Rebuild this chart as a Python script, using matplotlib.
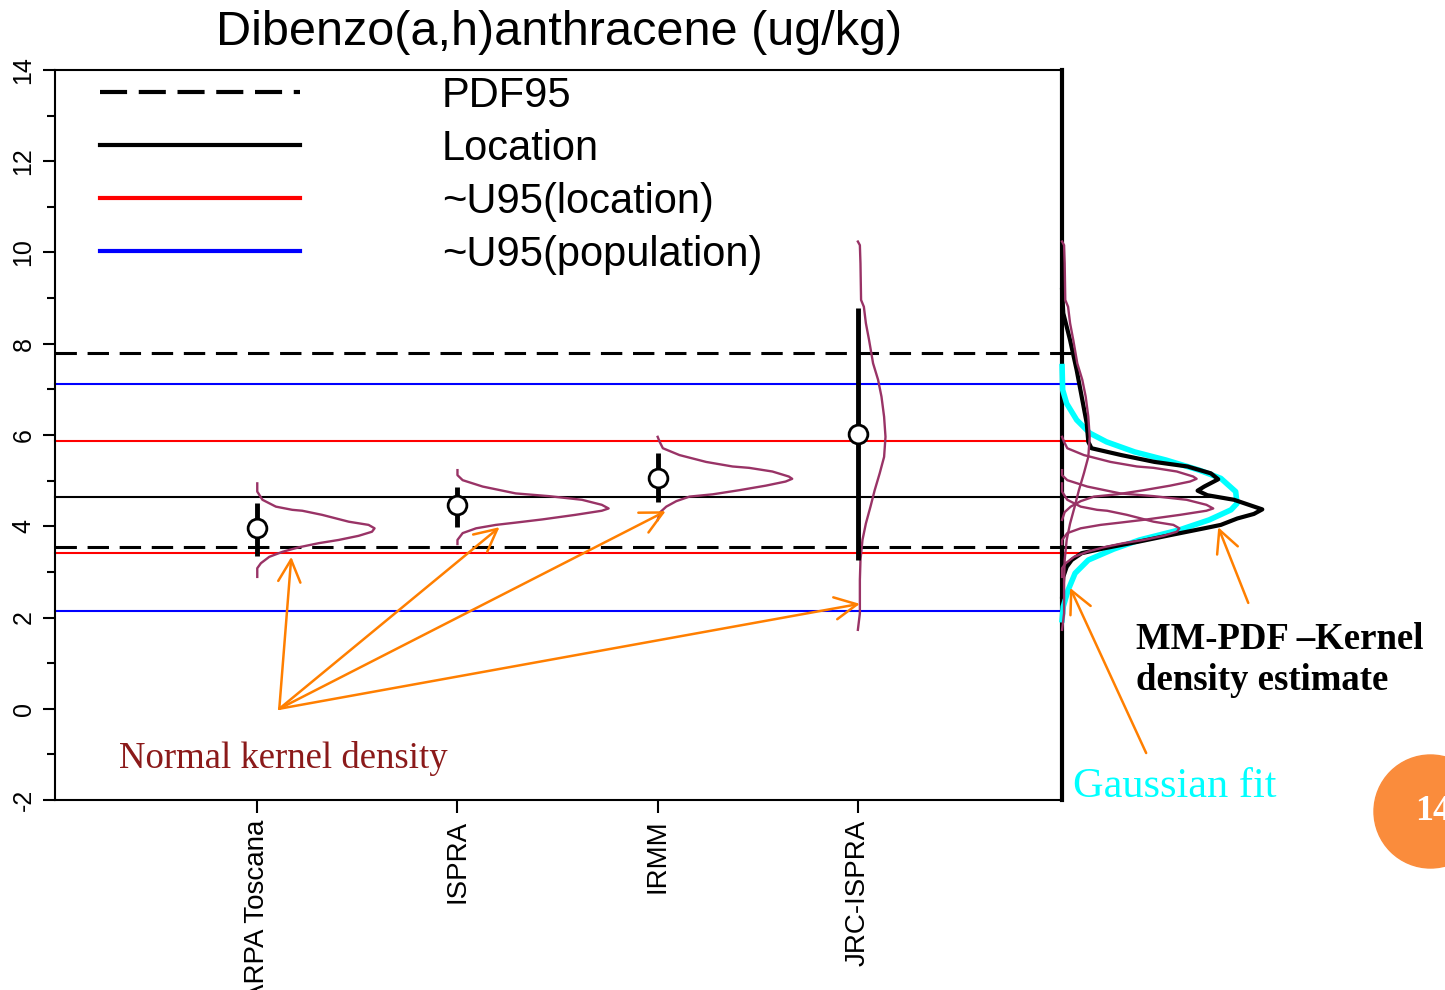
import matplotlib.pyplot as plt
import matplotlib.patches as mpatches
from matplotlib.lines import Line2D
import numpy as np

plt.rcParams['font.family'] = ['Liberation Sans', 'DejaVu Sans']
plt.rcParams['axes.unicode_minus'] = False

# labs, location and ~U95 bars
labs = ['ARPA Toscana', 'ISPRA', 'IRMM', 'JRC-ISPRA']
lab_x = [1, 2, 3, 4]
lab_loc = [3.96, 4.47, 5.06, 6.03]
lab_lo = [3.35, 3.99, 4.54, 3.26]
lab_hi = [4.51, 4.86, 5.61, 8.79]

# reference lines
pdf95 = [3.55, 7.80]
location = [4.64]
u95_loc = [3.42, 5.87]
u95_pop = [2.14, 7.12]

# normal kernel densities per lab (value, width in x units)
arpa_y = [4.94, 4.76, 4.58, 4.43, 4.36, 4.34, 4.25, 4.10, 4.03, 3.955, 3.88, 3.79,
          3.70, 3.63, 3.54, 3.44, 3.33, 3.19, 3.08, 2.89]
arpa_d = [0, 0, 0.026, 0.093, 0.175, 0.225, 0.324, 0.457, 0.556, 0.586, 0.573, 0.506,
          0.407, 0.308, 0.209, 0.126, 0.060, 0.018, 0, 0]
ispra_y = [5.23, 5.12, 5.01, 4.87, 4.72, 4.66, 4.58, 4.47, 4.39, 4.34, 4.25, 4.15,
           4.08, 4.03, 3.955, 3.85, 3.70, 3.61]
ispra_d = [0, 0, 0.026, 0.126, 0.291, 0.457, 0.622, 0.721, 0.755, 0.721, 0.589, 0.424,
           0.291, 0.192, 0.093, 0.026, 0, 0]
irmm_y = [5.96, 5.85, 5.71, 5.56, 5.41, 5.31, 5.28, 5.20, 5.09, 5.04, 4.98, 4.89,
          4.79, 4.70, 4.65, 4.55, 4.43, 4.31, 4.14]
irmm_d = [0, 0.010, 0.026, 0.109, 0.242, 0.374, 0.457, 0.573, 0.655, 0.672, 0.639, 0.540,
          0.407, 0.275, 0.159, 0.093, 0.043, 0.013, 0]
jrc_y = [10.24, 10.16, 9.76, 8.96, 8.81, 8.45, 8.08, 7.57, 7.21, 6.84, 6.40, 5.96,
         5.52, 5.16, 4.79, 4.43, 4.06, 3.70, 3.26, 2.82, 2.09, 1.73]
jrc_d = [0, 0.010, 0.013, 0.016, 0.030, 0.040, 0.056, 0.076, 0.101, 0.118, 0.131, 0.138,
         0.131, 0.109, 0.084, 0.063, 0.040, 0.023, 0.013, 0.010, 0.010, 0]

# MM-PDF kernel density estimate and gaussian fit (right panel)
mm_y = [9.18, 8.67, 8.08, 7.42, 6.84, 6.26, 5.85, 5.71, 5.56, 5.41, 5.31, 5.16, 5.03,
        4.87, 4.78, 4.68, 4.58, 4.37, 4.27, 4.17, 4.03, 3.955, 3.81, 3.66, 3.52, 3.41,
        3.26, 3.11, 2.89, 2.46]
mm_d = [0, 0.006, 0.040, 0.073, 0.098, 0.123, 0.131, 0.147, 0.296, 0.462, 0.627, 0.743, 0.780,
        0.710, 0.677, 0.726, 0.859, 1.000, 0.958, 0.875, 0.793, 0.710, 0.545, 0.379, 0.214, 0.098,
        0.048, 0.023, 0.006, 0]
gauss_y = [7.50, 6.99, 6.69, 6.33, 6.04, 5.85, 5.63, 5.45, 5.23, 5.05, 4.76, 4.50, 4.36,
           4.14, 3.92, 3.70, 3.50, 3.26, 2.97, 2.60, 2.24, 1.95]
gauss_d = [0, 0.003, 0.023, 0.073, 0.139, 0.222, 0.362, 0.520, 0.685, 0.793, 0.867, 0.874, 0.844,
           0.735, 0.586, 0.387, 0.258, 0.131, 0.065, 0.030, 0.006, 0]

purple = '#993366'
orange = '#FF7F00'
x_left, x_right = -0.01, 5.02  # right edge is the baseline of the MM-PDF panel

fig = plt.figure(figsize=(14.45, 9.9), dpi=100)
ax = fig.add_axes([0.0381, 0.1919, 0.6969, 0.7374])

mm_y_up = np.array(mm_y)[::-1]
mm_d_up = np.array(mm_d)[::-1]

def hline(vals, color, lw, ls):
    for v in vals:
        end = x_right + np.interp(v, mm_y_up, mm_d_up)
        ax.plot([x_left, end], [v, v], color=color, lw=lw, ls=ls, clip_on=False, zorder=2)

hline(pdf95, 'black', 2.2, (0, (7, 3.5)))
hline(location, 'black', 1.5, '-')
hline(u95_loc, 'red', 1.5, '-')
hline(u95_pop, 'blue', 1.5, '-')

# densities next to each lab and again on the right panel
dens = [(arpa_y, arpa_d), (ispra_y, ispra_d), (irmm_y, irmm_d), (jrc_y, jrc_d)]
for x0, (yy, dd) in zip(lab_x, dens):
    ax.plot(x0 + np.array(dd), yy, color=purple, lw=1.7, zorder=3)
    ax.plot(x_right + np.array(dd), yy, color=purple, lw=1.7, clip_on=False, zorder=5)

ax.plot(x_right + np.array(gauss_d), gauss_y, color='cyan', lw=4, clip_on=False, zorder=3)
ax.plot(x_right + np.array(mm_d), mm_y, color='black', lw=3, clip_on=False, zorder=4)

ax.vlines(lab_x, lab_lo, lab_hi, color='black', lw=3.5, zorder=6)
ax.plot(lab_x, lab_loc, 'o', mfc='white', mec='black', ms=13.5, mew=2, zorder=7)

# arrows
for tx, ty in [(1.17, 3.33), (2.21, 3.98), (3.04, 4.33), (4.01, 2.30)]:
    ax.annotate('', xy=(tx, ty), xytext=(1.11, 0.0),
                arrowprops=dict(arrowstyle='->', color=orange, lw=1.8, mutation_scale=40,
                                shrinkA=0, shrinkB=0), zorder=8)
ax.annotate('', xy=(5.80, 3.98), xytext=(5.95, 2.32), annotation_clip=False,
            arrowprops=dict(arrowstyle='->', color=orange, lw=1.8, mutation_scale=40,
                            shrinkA=0, shrinkB=0))
ax.annotate('', xy=(5.06, 2.65), xytext=(5.44, -0.97), annotation_clip=False,
            arrowprops=dict(arrowstyle='->', color=orange, lw=1.8, mutation_scale=40,
                            shrinkA=0, shrinkB=0))

ax.text(0.308, -1.08, 'Normal kernel density', color='#8B1A1A', fontsize=26.5,
        family='Liberation Serif', ha='left', va='center')
ax.text(5.39, 1.07, 'MM-PDF \u2013Kernel\ndensity estimate', color='black', fontsize=26.5,
        family='Liberation Serif', weight='bold', ha='left', va='center', clip_on=False)
ax.text(5.075, -1.72, 'Gaussian fit', color='cyan', fontsize=30.5,
        family='Liberation Serif', ha='left', va='center', clip_on=False)

# legend
handles = [Line2D([], [], color='black', lw=3, ls=(0, (6.5, 2.8))),
           Line2D([], [], color='black', lw=3),
           Line2D([], [], color='red', lw=3),
           Line2D([], [], color='blue', lw=3)]
ax.legend(handles, ['PDF95', 'Location', '~U95(location)', '~U95(population)'],
          loc='upper left', bbox_to_anchor=(0.0447, 0.992), frameon=False, fontsize=30,
          handlelength=4.8, handletextpad=3.4, labelspacing=0.31, borderpad=0,
          borderaxespad=0)

ax.set_title('Dibenzo(a,h)anthracene (ug/kg)', fontsize=35, pad=18)

ax.set_xlim(x_left, x_right)
ax.set_ylim(-2, 14)
ax.set_xticks(lab_x, labs, rotation=90, fontsize=20)
ax.set_yticks(range(-2, 15, 2))
ax.set_yticks(range(-1, 14, 2), minor=True)
plt.setp(ax.get_yticklabels(), rotation=90, va='center', fontsize=18)
ax.tick_params(axis='both', which='major', length=9, width=1.5, pad=5)
ax.tick_params(axis='y', which='minor', length=5.5, width=1.5)
for s in ['left', 'bottom', 'top']:
    ax.spines[s].set_linewidth(1.5)
ax.spines['right'].set_linewidth(3)

# slide number badge
fig.add_artist(mpatches.Ellipse((1430.5 / 1445, 1 - 811.5 / 990), 113 / 1445, 113 / 990,
                                transform=fig.transFigure, color='#FA8C3C'))
fig.text(1415 / 1445, 1 - 812 / 990, '14', color='white', fontsize=26, weight='bold',
         family='Liberation Serif', ha='left', va='center')

fig.savefig('out.png', dpi=100)
